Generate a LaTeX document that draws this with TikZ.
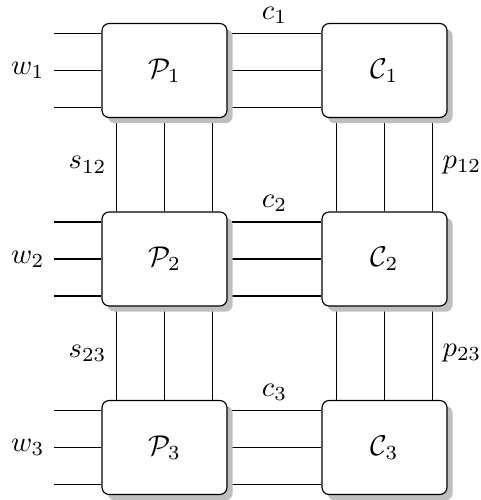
\documentclass[tikz,border=0pt]{standalone}
\usetikzlibrary{shadows,backgrounds}
\begin{document}
\begin{tikzpicture}[x=0.35pt,y=-0.35pt,
  blk/.style={draw, rounded corners=2.5pt, fill=white,
    drop shadow={shadow xshift=2pt, shadow yshift=-2pt, fill=black!25, opacity=1},
    minimum width=43.75pt, minimum height=32.9pt, inner sep=0pt},
  wire/.style={line width=0.4pt}]
\useasboundingbox (0,0) rectangle (480,500);
\node[blk] (P1) at (164.5,70.5) {$\mathcal{P}_1$};
\node[blk] (C1) at (384.5,70.5) {$\mathcal{C}_1$};
\node[blk] (P2) at (164.5,259) {$\mathcal{P}_2$};
\node[blk] (C2) at (384.5,259) {$\mathcal{C}_2$};
\node[blk] (P3) at (164.5,447.5) {$\mathcal{P}_3$};
\node[blk] (C3) at (384.5,447.5) {$\mathcal{C}_3$};
\begin{scope}[on background layer]
\foreach \i in {1,2,3}{
  % input stubs
  \draw[wire] ([yshift=-3.7pt]P\i.north west) -- ++(-47,0);
  \draw[wire] (P\i.west) -- ++(-47,0) node[left] (w\i) {$w_\i$};
  \draw[wire] ([yshift=3.7pt]P\i.south west) -- ++(-47,0);
  % P to C
  \draw[wire] ([yshift=-3.7pt]P\i.north east) -- ([yshift=-3.7pt]C\i.north west)
     node[midway,above] (c\i) {$c_\i$};
  \draw[wire] (P\i.east) -- (C\i.west);
  \draw[wire] ([yshift=3.7pt]P\i.south east) -- ([yshift=3.7pt]C\i.south west);
}
\foreach \i/\j in {1/2,2/3}{
  \draw[wire] ([xshift=5.25pt]P\i.south west) -- ([xshift=5.25pt]P\j.north west)
     node[midway,left] (s\i\j) {$s_{\i\j}$};
  \draw[wire] (P\i.south) -- (P\j.north);
  \draw[wire] ([xshift=-5.25pt]P\i.south east) -- ([xshift=-5.25pt]P\j.north east);
  \draw[wire] ([xshift=5.25pt]C\i.south west) -- ([xshift=5.25pt]C\j.north west);
  \draw[wire] (C\i.south) -- (C\j.north);
  \draw[wire] ([xshift=-5.25pt]C\i.south east) -- ([xshift=-5.25pt]C\j.north east)
     node[midway,right] (p\i\j) {$p_{\i\j}$};
}
\end{scope}
\end{tikzpicture}
\end{document}
